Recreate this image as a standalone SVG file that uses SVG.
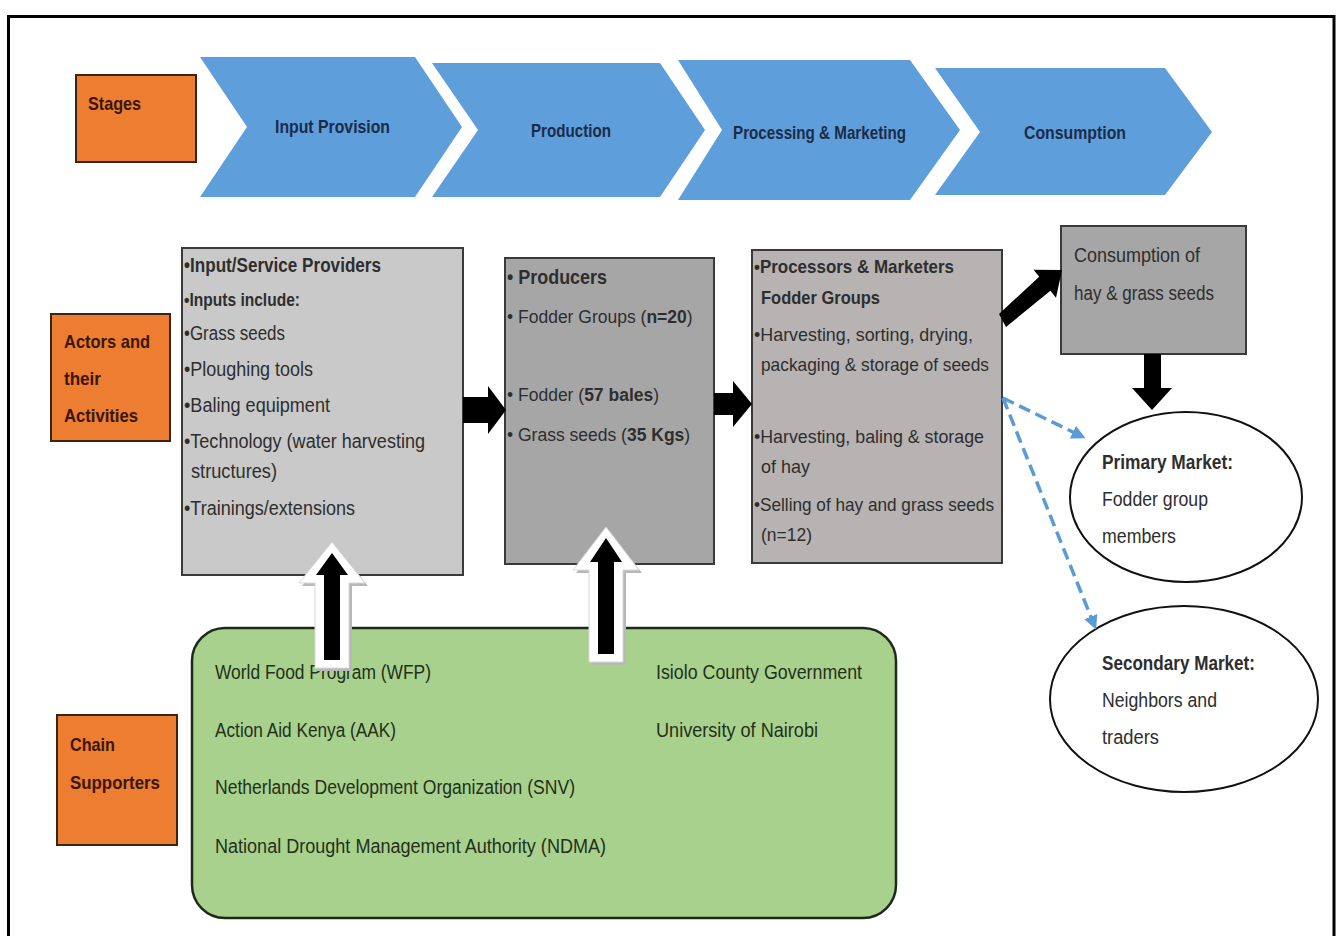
<svg xmlns="http://www.w3.org/2000/svg" width="1343" height="936" viewBox="0 0 1343 936">
  <style>
    .f { font-family: "Liberation Sans", Arial, sans-serif; }
    .stage { fill: #5E9FDB; }
    .stxt { font-size: 19px; font-weight: bold; fill: #1C2B48; }
    .lab { fill: #ED7D31; stroke: #3B2512; stroke-width: 2; }
    .ltxt { font-size: 19px; font-weight: bold; fill: #3A1606; }
    .box { stroke: #3A3A3A; stroke-width: 2; }
    .btxt { font-size: 20px; fill: #2E2E2E; }
    .s17 { font-size: 17.5px; }
    .s18 { font-size: 18px; }
    .s19 { font-size: 19px; }
    .s21 { font-size: 21px; }
    .b { font-weight: bold; }
    .mk { fill: #FFFFFF; stroke: #111111; stroke-width: 2; }
    .gtxt { font-size: 20px; fill: #23301A; }
    .blk { fill: #000000; }
    .dash { fill: none; stroke: #5B9BD5; stroke-width: 3.5; stroke-dasharray: 12 6; }
  </style>
  <defs>
    <marker id="blueHead" viewBox="0 0 10 10" refX="8" refY="5" markerWidth="4" markerHeight="4" orient="auto">
      <path d="M0,0 L10,5 L0,10 z" fill="#5B9BD5"/>
    </marker>
  </defs>

  <rect width="1343" height="936" fill="#FFFFFF"/>
  <!-- outer frame -->
  <path d="M8.5,936 V16.5 H1334 V936" fill="none" stroke="#000" stroke-width="3"/>

  <!-- row labels -->
  <g id="label-stages">
    <rect class="lab" x="76" y="75" width="120" height="87"/>
    <text class="f ltxt" x="88" y="110" textLength="53" lengthAdjust="spacingAndGlyphs">Stages</text>
  </g>
  <g id="label-actors">
    <rect class="lab" x="51" y="314" width="119" height="127"/>
    <text class="f ltxt" x="64" y="348" textLength="86" lengthAdjust="spacingAndGlyphs">Actors and</text>
    <text class="f ltxt" x="64" y="385" textLength="37" lengthAdjust="spacingAndGlyphs">their</text>
    <text class="f ltxt" x="64" y="422" textLength="74" lengthAdjust="spacingAndGlyphs">Activities</text>
  </g>
  <g id="label-supporters">
    <rect class="lab" x="57" y="715" width="120" height="130"/>
    <text class="f ltxt" x="70" y="751" textLength="45" lengthAdjust="spacingAndGlyphs">Chain</text>
    <text class="f ltxt" x="70" y="789" textLength="90" lengthAdjust="spacingAndGlyphs">Supporters</text>
  </g>

  <!-- value chain stages -->
  <g id="stage-input">
    <polygon class="stage" points="200,57 415,57 462,127 415,197 200,197 247,127"/>
    <text class="f stxt" x="275" y="133" textLength="115" lengthAdjust="spacingAndGlyphs">Input Provision</text>
  </g>
  <g id="stage-production">
    <polygon class="stage" points="432,63 660,63 705,130 660,197 432,197 478,130"/>
    <text class="f stxt" x="531" y="137" textLength="80" lengthAdjust="spacingAndGlyphs">Production</text>
  </g>
  <g id="stage-processing">
    <polygon class="stage" points="678,60 910,60 960,130 910,200 678,200 722,130"/>
    <text class="f stxt" x="733" y="139" textLength="173" lengthAdjust="spacingAndGlyphs">Processing &amp; Marketing</text>
  </g>
  <g id="stage-consumption">
    <polygon class="stage" points="935,68 1165,68 1212,132 1165,195 935,195 980,132"/>
    <text class="f stxt" x="1024" y="139" textLength="102" lengthAdjust="spacingAndGlyphs">Consumption</text>
  </g>

  <!-- actors -->
  <g id="node-input">
    <rect class="box" x="182" y="248" width="281" height="327" fill="#C9C9C9"/>
    <text class="f btxt b" x="184" y="272" textLength="197" lengthAdjust="spacingAndGlyphs">•Input/Service Providers</text>
    <text class="f btxt s18 b" x="184" y="306" textLength="116" lengthAdjust="spacingAndGlyphs">•Inputs include:</text>
    <text class="f btxt" x="184" y="340" textLength="101" lengthAdjust="spacingAndGlyphs">•Grass seeds</text>
    <text class="f btxt" x="184" y="376" textLength="129" lengthAdjust="spacingAndGlyphs">•Ploughing tools</text>
    <text class="f btxt" x="184" y="412" textLength="146" lengthAdjust="spacingAndGlyphs">•Baling equipment</text>
    <text class="f btxt" x="184" y="448" textLength="241" lengthAdjust="spacingAndGlyphs">•Technology (water harvesting</text>
    <text class="f btxt" x="191" y="478" textLength="86" lengthAdjust="spacingAndGlyphs">structures)</text>
    <text class="f btxt" x="184" y="515" textLength="171" lengthAdjust="spacingAndGlyphs">•Trainings/extensions</text>
  </g>
  <g id="node-producers">
    <rect class="box" x="505" y="258" width="209" height="306" fill="#A6A6A6"/>
    <text class="f btxt s21 b" x="507" y="284" textLength="100" lengthAdjust="spacingAndGlyphs">• Producers</text>
    <text class="f btxt s17" x="507" y="323">• Fodder Groups (<tspan class="b">n=20</tspan>)</text>
    <text class="f btxt s17" x="507" y="401">• Fodder (<tspan class="b">57 bales</tspan>)</text>
    <text class="f btxt s17" x="507" y="441">• Grass seeds (<tspan class="b">35 Kgs</tspan>)</text>
  </g>
  <g id="node-processors">
    <rect class="box" x="752" y="250" width="250" height="313" fill="#B7B3B3"/>
    <text class="f btxt s19 b" x="754" y="273" textLength="200" lengthAdjust="spacingAndGlyphs">•Processors &amp; Marketers</text>
    <text class="f btxt s19 b" x="761" y="304" textLength="119" lengthAdjust="spacingAndGlyphs">Fodder Groups</text>
    <text class="f btxt s19" x="754" y="341" textLength="219" lengthAdjust="spacingAndGlyphs">•Harvesting, sorting, drying,</text>
    <text class="f btxt s19" x="761" y="371" textLength="228" lengthAdjust="spacingAndGlyphs">packaging &amp; storage of seeds</text>
    <text class="f btxt s19" x="754" y="443" textLength="230" lengthAdjust="spacingAndGlyphs">•Harvesting, baling &amp; storage</text>
    <text class="f btxt s19" x="761" y="473" textLength="49" lengthAdjust="spacingAndGlyphs">of hay</text>
    <text class="f btxt s19" x="754" y="511" textLength="240" lengthAdjust="spacingAndGlyphs">•Selling of hay and grass seeds</text>
    <text class="f btxt s19" x="761" y="541" textLength="51" lengthAdjust="spacingAndGlyphs">(n=12)</text>
  </g>
  <g id="node-consumption">
    <rect class="box" x="1061" y="226" width="185" height="128" fill="#A6A6A6"/>
    <text class="f btxt" x="1074" y="262" textLength="126" lengthAdjust="spacingAndGlyphs">Consumption of</text>
    <text class="f btxt" x="1074" y="300" textLength="140" lengthAdjust="spacingAndGlyphs">hay &amp; grass seeds</text>
  </g>
  <g id="node-primary">
    <ellipse class="mk" cx="1186" cy="497" rx="116" ry="85"/>
    <text class="f btxt b" x="1102" y="469" textLength="131" lengthAdjust="spacingAndGlyphs">Primary Market:</text>
    <text class="f btxt" x="1102" y="506" textLength="106" lengthAdjust="spacingAndGlyphs">Fodder group</text>
    <text class="f btxt" x="1102" y="543" textLength="74" lengthAdjust="spacingAndGlyphs">members</text>
  </g>
  <g id="node-secondary">
    <ellipse class="mk" cx="1184" cy="699" rx="134" ry="93"/>
    <text class="f btxt b" x="1102" y="670" textLength="153" lengthAdjust="spacingAndGlyphs">Secondary Market:</text>
    <text class="f btxt" x="1102" y="707" textLength="115" lengthAdjust="spacingAndGlyphs">Neighbors and</text>
    <text class="f btxt" x="1102" y="744" textLength="57" lengthAdjust="spacingAndGlyphs">traders</text>
  </g>

  <!-- chain supporters -->
  <g id="node-supporters">
    <rect x="192" y="628" width="704" height="290" rx="33" ry="33" fill="#A9D18E" stroke="#1E2A18" stroke-width="2.5"/>
    <text class="f gtxt" x="215" y="679" textLength="216" lengthAdjust="spacingAndGlyphs">World Food Program (WFP)</text>
    <text class="f gtxt" x="215" y="737" textLength="181" lengthAdjust="spacingAndGlyphs">Action Aid Kenya (AAK)</text>
    <text class="f gtxt" x="215" y="794" textLength="360" lengthAdjust="spacingAndGlyphs">Netherlands Development Organization (SNV)</text>
    <text class="f gtxt" x="215" y="853" textLength="391" lengthAdjust="spacingAndGlyphs">National Drought Management Authority (NDMA)</text>
    <text class="f gtxt" x="656" y="679" textLength="206" lengthAdjust="spacingAndGlyphs">Isiolo County Government</text>
    <text class="f gtxt" x="656" y="737" textLength="162" lengthAdjust="spacingAndGlyphs">University of Nairobi</text>
  </g>

  <!-- connectors -->
  <g id="connectors">
    <!-- input -> producers -->
    <polygon class="blk" points="463,397 488,397 488,386 506,410 488,434 488,423 463,423"/>
    <!-- producers -> processors -->
    <polygon class="blk" points="714,393 733,393 733,381 752,404 733,427 733,415 714,415"/>
    <!-- processors -> consumption -->
    <polygon class="blk" points="1006,327 1050.4,290.7 1056,297.7 1062,270 1033.6,269.7 1039.2,276.7 999,314"/>
    <!-- consumption -> primary market -->
    <polygon class="blk" points="1144,354 1161,354 1161,388 1172,388 1152,410 1132,388 1144,388"/>
    <!-- processors -> markets (dashed) -->
    <line class="dash" x1="1003" y1="398" x2="1083" y2="437" marker-end="url(#blueHead)"/>
    <line class="dash" x1="1003" y1="398" x2="1095" y2="627" marker-end="url(#blueHead)"/>
    <!-- supporters -> input providers -->
    <polygon fill="#B8B8B8" points="335,545 368,586 352,586 352,671 318,671 318,586 302,586"/>
    <polygon fill="#FFFFFF" stroke="#D8D8D8" stroke-width="1" points="332,542 365,583 349,583 349,668 315,668 315,583 299,583"/>
    <polygon class="blk" points="332,553 348,575 340,575 340,660 324,660 324,575 316,575"/>
    <!-- supporters -> producers -->
    <polygon fill="#B8B8B8" points="609,530 642,573 626,573 626,665 592,665 592,573 576,573"/>
    <polygon fill="#FFFFFF" stroke="#D8D8D8" stroke-width="1" points="606,527 639,570 623,570 623,662 589,662 589,570 573,570"/>
    <polygon class="blk" points="606,538 622,562 614,562 614,654 598,654 598,562 590,562"/>
  </g>
</svg>
